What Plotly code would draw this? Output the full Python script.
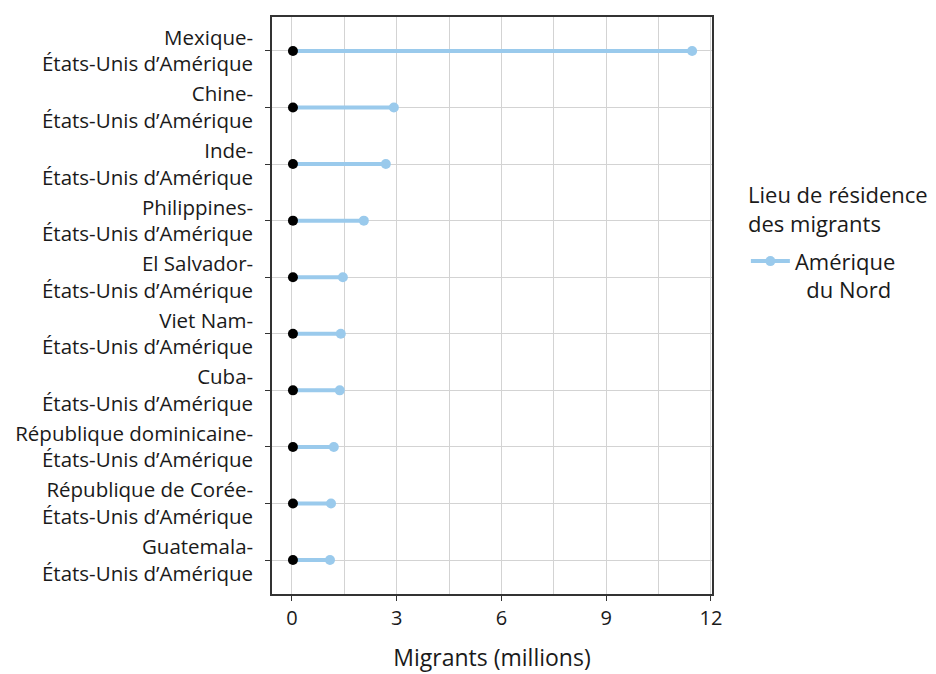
import plotly.graph_objects as go

origins = ["Mexique", "Chine", "Inde", "Philippines", "El Salvador", "Viet Nam",
           "Cuba", "République dominicaine", "République de Corée", "Guatemala"]
destination = "États-Unis d’Amérique"
start_values = [0.03] * 10
migrants = [11.46, 2.92, 2.69, 2.06, 1.46, 1.40, 1.37, 1.20, 1.12, 1.09]
x_ticks = [0, 3, 6, 9, 12]

labels = [f"{o}-<br>{destination}" for o in origins]

blue = "#9ACAEC"
font = "Open Sans"
txt = "#1a1a1a"

lx, ly = [], []
for lab, s, v in zip(labels, start_values, migrants):
    lx += [s, v, None]
    ly += [lab, lab, None]

fig = go.Figure()
fig.add_trace(go.Scatter(x=lx, y=ly, mode="lines", line=dict(color=blue, width=4),
                         showlegend=False, hoverinfo="skip"))
fig.add_trace(go.Scatter(x=migrants, y=labels, mode="markers",
                         marker=dict(color=blue, size=10), showlegend=False))
fig.add_trace(go.Scatter(x=start_values, y=labels, mode="markers",
                         marker=dict(color="black", size=10), showlegend=False))
fig.add_trace(go.Scatter(x=[None], y=[None], mode="lines+markers",
                         line=dict(color=blue, width=4), marker=dict(color=blue, size=10),
                         name="Amérique<br>\u00a0\u00a0du Nord", showlegend=True))

# legend title as a separate text block
fig.add_annotation(x=1.077, xref="paper", y=0.722, yref="paper",
                   text="Lieu de résidence<br>des migrants", align="left",
                   xanchor="left", yanchor="top", showarrow=False,
                   font=dict(size=22, family=font, color=txt))

fig.update_layout(
    width=928, height=666,
    margin=dict(l=264, r=224, t=7, b=79),
    plot_bgcolor="white", paper_bgcolor="white",
    font=dict(family=font, size=20, color=txt),
    legend=dict(x=1.077, y=0.613, xanchor="left", yanchor="top", valign="top",
                font=dict(size=22), tracegroupgap=0, itemwidth=39),
)
fig.update_xaxes(range=[-0.57, 12.03], tickvals=x_ticks, ticktext=[str(t) for t in x_ticks],
                 showgrid=True, gridcolor="#d3d3d3", gridwidth=1.3,
                 minor=dict(dtick=1.5, tick0=0, showgrid=True, gridcolor="#d3d3d3", gridwidth=1.3),
                 zeroline=False, showline=True, linecolor="#333", linewidth=1.5, mirror=True,
                 ticks="outside", ticklen=5, tickcolor="#333",
                 title=dict(text="Migrants (millions)", font=dict(size=23), standoff=20),
                 tickfont=dict(size=20))
fig.update_yaxes(categoryorder="array", categoryarray=labels,
                 range=[9.6, -0.6], ticklabelstandoff=8,
                 showgrid=True, gridcolor="#d3d3d3", gridwidth=1.3,
                 zeroline=False, showline=True, linecolor="#333", linewidth=1.5, mirror=True,
                 ticks="outside", ticklen=5, tickcolor="#333", tickfont=dict(size=20.5))

fig.write_html("out.html")
